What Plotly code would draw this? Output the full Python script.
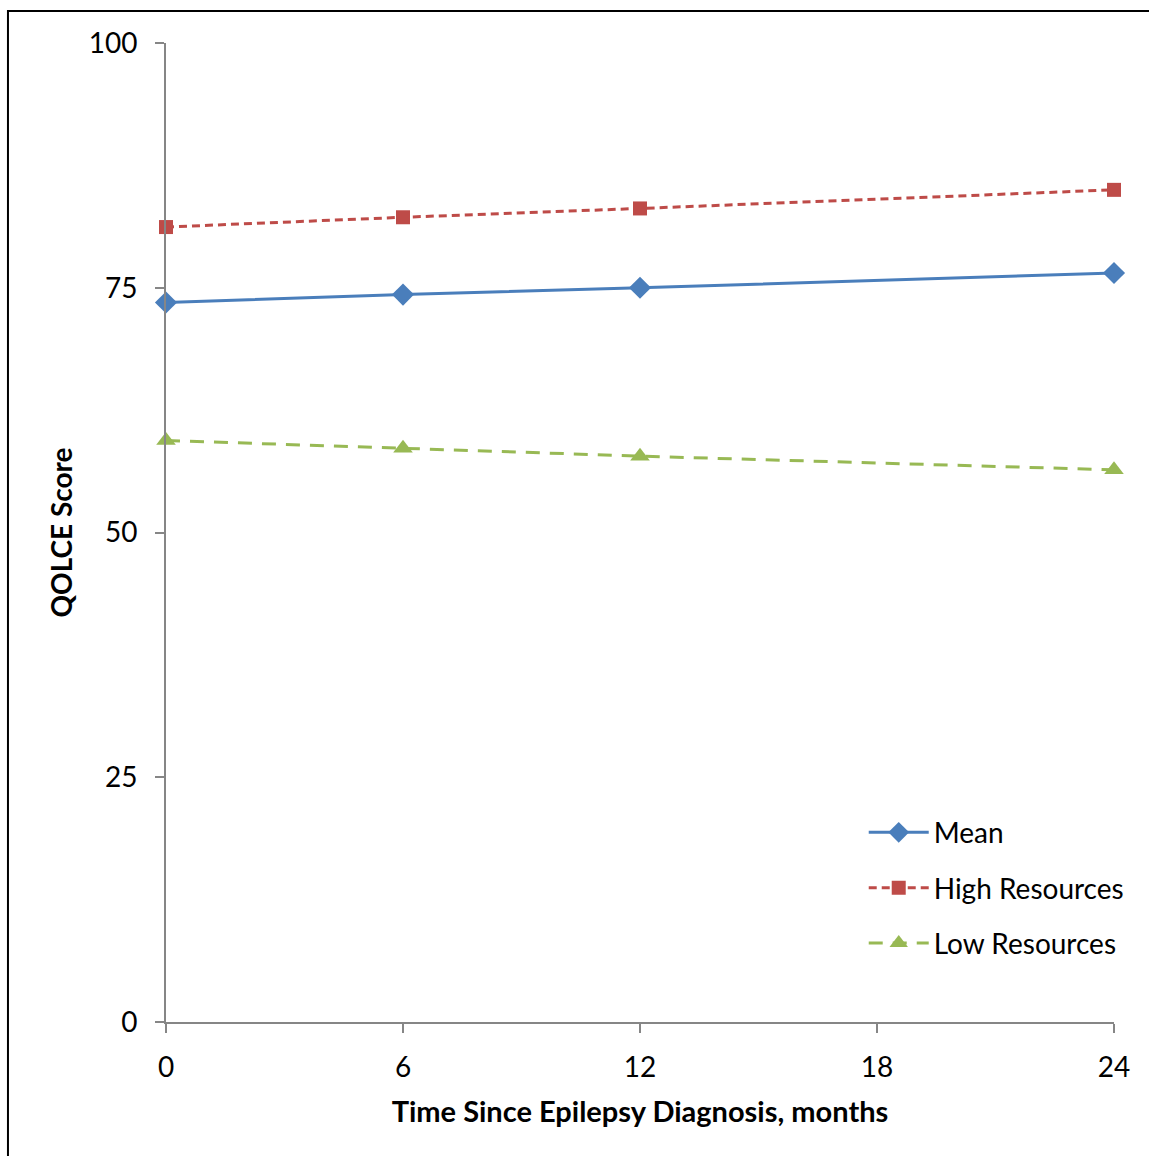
import plotly.graph_objects as go

months = [0, 6, 12, 24]
mean_vals = [73.5, 74.3, 75.0, 76.5]
high_vals = [81.2, 82.2, 83.1, 85.0]
low_vals = [59.4, 58.6, 57.8, 56.4]

x_ticks = [0, 6, 12, 18, 24]
y_ticks = [0, 25, 50, 75, 100]

FONT = "Lato, 'Open Sans', sans-serif"

fig = go.Figure()
fig.add_trace(go.Scatter(x=months, y=mean_vals, name="Mean", mode="lines+markers",
                         legendgroup="a", cliponaxis=False,
                         line=dict(color="#4A7EBB", width=3),
                         marker=dict(symbol="diamond", size=17, color="#4A7EBB")))
fig.add_trace(go.Scatter(x=months, y=high_vals, name="High Resources", mode="lines+markers",
                         legendgroup="b", cliponaxis=False,
                         line=dict(color="#BE4B48", width=3, dash="8px,5px"),
                         marker=dict(symbol="square", size=14, color="#BE4B48")))
fig.add_trace(go.Scatter(x=months, y=low_vals, name="Low Resources", mode="lines+markers",
                         legendgroup="c", cliponaxis=False,
                         line=dict(color="#98B954", width=3, dash="14px,10px"),
                         marker=dict(symbol="triangle-up", size=17, color="#98B954")))

axis_common = dict(showgrid=False, zeroline=False, showline=True, linecolor="#868686",
                   linewidth=2, ticks="outside", ticklen=9, tickcolor="#868686", tickwidth=2,
                   tickfont=dict(family=FONT, size=28, color="#000000"))

fig.update_xaxes(range=[0, 24], tickvals=x_ticks, ticktext=[str(v) for v in x_ticks],
                 ticklabelstandoff=10,
                 title=dict(text="<b>Time Since Epilepsy Diagnosis, months</b>",
                            font=dict(family=FONT, size=29, color="#000000"), standoff=20),
                 **axis_common)
fig.update_yaxes(range=[0, 100], tickvals=y_ticks, ticktext=[str(v) for v in y_ticks],
                 ticklabelstandoff=12,
                 title=dict(text="<b>QOLCE Score</b>",
                            font=dict(family=FONT, size=28, color="#000000"), standoff=8),
                 **axis_common)

fig.update_layout(
    width=1149, height=1156,
    margin=dict(l=166, r=35, t=43, b=134),
    paper_bgcolor="white", plot_bgcolor="white",
    showlegend=True,
    legend=dict(x=0.736, y=0.219, xanchor="left", yanchor="top",
                font=dict(family=FONT, size=28, color="#000000"),
                bgcolor="rgba(0,0,0,0)", tracegroupgap=16, itemwidth=60),
    shapes=[dict(type="rect", xref="paper", yref="paper",
                 x0=-0.1667, x1=1.2, y0=-0.2, y1=1.0327,
                 line=dict(color="black", width=2), layer="below")],
)

fig.write_html("out.html")
